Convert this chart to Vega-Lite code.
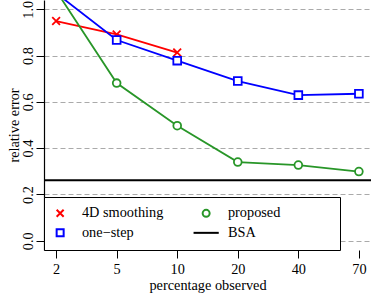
{
  "$schema": "https://vega.github.io/schema/vega-lite/v6.json",
  "width": 327,
  "height": 250,
  "autosize": {"type": "none"},
  "padding": {"left": 44, "top": 0, "right": 3, "bottom": 48},
  "background": "white",
  "data": {
    "values": [
      {"series": "4D smoothing", "pct": 2, "value": 0.949},
      {"series": "4D smoothing", "pct": 5, "value": 0.891},
      {"series": "4D smoothing", "pct": 10, "value": 0.813},
      {"series": "one−step", "pct": 2, "value": 1.07},
      {"series": "one−step", "pct": 5, "value": 0.867},
      {"series": "one−step", "pct": 10, "value": 0.778},
      {"series": "one−step", "pct": 20, "value": 0.69},
      {"series": "one−step", "pct": 40, "value": 0.629},
      {"series": "one−step", "pct": 70, "value": 0.635},
      {"series": "proposed", "pct": 2, "value": 1.08},
      {"series": "proposed", "pct": 5, "value": 0.681},
      {"series": "proposed", "pct": 10, "value": 0.497},
      {"series": "proposed", "pct": 20, "value": 0.34},
      {"series": "proposed", "pct": 40, "value": 0.327},
      {"series": "proposed", "pct": 70, "value": 0.299},
      {"series": "BSA", "pct": null, "value": 0.261}
    ]
  },
  "encoding": {
    "y": {
      "field": "value",
      "type": "quantitative",
      "scale": {"domain": [-0.04, 1.04], "nice": false, "zero": false},
      "axis": {
        "title": "relative error",
        "values": [0, 0.2, 0.4, 0.6, 0.8, 1.0],
        "format": ".1f",
        "labelAngle": 270,
        "labelAlign": "center",
        "labelBaseline": "alphabetic",
        "labelPadding": 4,
        "tickSize": 8,
        "titleBaseline": "alphabetic",
        "titlePadding": 3,
        "grid": true,
        "gridDash": [5, 3],
        "gridColor": "#aaaaaa",
        "gridWidth": 1
      }
    }
  },
  "layer": [
    {
      "transform": [{"filter": "datum.series != 'BSA'"}],
      "mark": {"type": "line", "strokeWidth": 1.8, "clip": true},
      "encoding": {
        "x": {
          "field": "pct",
          "type": "ordinal",
          "scale": {"type": "point", "padding": 0.2, "domain": [2, 5, 10, 20, 40, 70]},
          "axis": {
            "title": "percentage observed",
            "labelAngle": 0,
            "domain": false,
            "tickSize": 8,
            "labelPadding": 4,
            "titlePadding": 2,
            "grid": false
          }
        },
        "color": {
          "field": "series",
          "type": "nominal",
          "scale": {
            "domain": ["4D smoothing", "one−step", "proposed"],
            "range": ["#ff0000", "#0000ff", "#289628"]
          },
          "legend": null
        }
      }
    },
    {
      "transform": [{"filter": "datum.series != 'BSA'"}],
      "mark": {"type": "point", "filled": false, "fill": "white", "fillOpacity": 1, "strokeWidth": 1.8, "size": 60, "opacity": 1, "clip": true},
      "encoding": {
        "x": {"field": "pct", "type": "ordinal"},
        "stroke": {
          "field": "series",
          "type": "nominal",
          "scale": {
            "domain": ["4D smoothing", "one−step", "proposed", "BSA"],
            "range": ["#ff0000", "#0000ff", "#289628", "#000000"]
          },
          "legend": {
            "title": null,
            "orient": "none",
            "legendX": 0,
            "legendY": 197,
            "columns": 2,
            "gridAlign": "each",
            "strokeColor": "black",
            "fillColor": "white",
            "padding": 9,
            "rowPadding": 3.7,
            "columnPadding": 25,
            "symbolSize": 49,
            "symbolStrokeWidth": 2,
            "symbolFillColor": "white",
            "labelOffset": 14.65,
            "labelFont": "Liberation Serif",
            "labelFontSize": 14.3,
            "labelColor": "black",
            "labelExpr": "datum.label == 'proposed' ? 'proposed\u2003\u2003\u2003\u00a0\u00a0\u200b' : datum.label"
          }
        },
        "shape": {
          "field": "series",
          "type": "nominal",
          "scale": {
            "domain": ["4D smoothing", "one−step", "proposed", "BSA"],
            "range": ["M-1,-1L1,1M1,-1L-1,1", "square", "circle", "M-3.6,0L3.6,0"]
          },
          "legend": {
            "title": null,
            "orient": "none",
            "legendX": 0,
            "legendY": 197,
            "columns": 2,
            "gridAlign": "each",
            "strokeColor": "black",
            "fillColor": "white",
            "padding": 9,
            "rowPadding": 3.7,
            "columnPadding": 25,
            "symbolSize": 49,
            "symbolStrokeWidth": 2,
            "symbolFillColor": "white",
            "labelOffset": 14.65,
            "labelFont": "Liberation Serif",
            "labelFontSize": 14.3,
            "labelColor": "black",
            "labelExpr": "datum.label == 'proposed' ? 'proposed\u2003\u2003\u2003\u00a0\u00a0\u200b' : datum.label"
          }
        }
      }
    },
    {
      "transform": [{"filter": "datum.series == 'BSA'"}],
      "mark": {"type": "rule", "strokeWidth": 2, "color": "black"},
      "encoding": {}
    }
  ],
  "config": {
    "view": {"stroke": null},
    "font": "Liberation Serif",
    "legend": {"labelFont": "Liberation Serif"},
    "axis": {
      "labelFont": "Liberation Serif",
      "titleFont": "Liberation Serif",
      "labelFontSize": 14.3,
      "titleFontSize": 14.3,
      "titleFontWeight": "normal",
      "labelColor": "black",
      "titleColor": "black",
      "tickColor": "black",
      "domainColor": "black",
      "tickWidth": 1,
      "domainWidth": 1.2
    }
  }
}
